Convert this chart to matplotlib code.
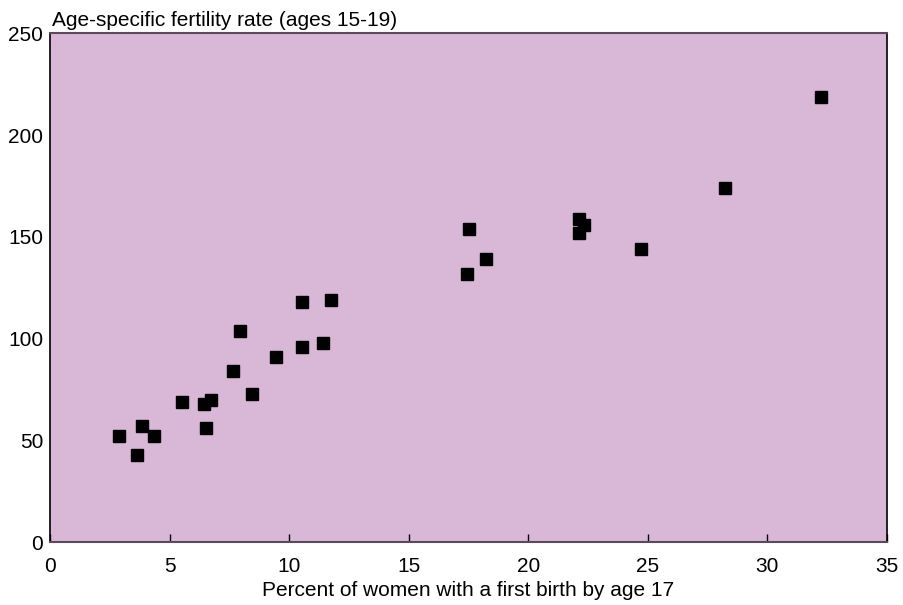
import matplotlib
matplotlib.use("Agg")
import matplotlib.pyplot as plt

plt.rcParams['font.family'] = ['Liberation Sans', 'DejaVu Sans']

# percent of women with a first birth by age 17
first_birth_pct = [2.9, 3.85, 3.64, 4.35, 5.52, 6.44, 6.72, 6.52, 7.65, 7.95,
                   8.45, 9.45, 10.54, 10.54, 11.42, 11.75, 17.44, 17.52, 18.24,
                   22.12, 22.33, 22.12, 24.72, 28.23, 32.25]
# age-specific fertility rate, ages 15-19
asfr = [52, 57, 42.7, 52, 68.8, 67.8, 69.7, 56, 84, 103.6,
        72.7, 90.9, 117.9, 95.8, 97.7, 118.9, 131.6, 153.7, 139,
        158.6, 155.7, 151.8, 143.9, 173.9, 218.6]

fig = plt.figure(figsize=(9.04, 6.05), dpi=100)
ax = fig.add_axes([0.0553, 0.104, 0.9257, 0.841])
ax.set_facecolor('#d9b7d6')

ax.plot(first_birth_pct, asfr, 's', color='black', markersize=8.6, ls='')

ax.set_xlim(0, 35)
ax.set_ylim(0, 250)
ax.set_xticks(range(0, 36, 5))
ax.set_yticks(range(0, 251, 50))
ax.tick_params(axis='x', direction='in', length=6, width=1, pad=11, labelsize=15)
ax.tick_params(axis='y', length=0, pad=5, labelsize=15)

for side in ['top', 'bottom']:
    ax.spines[side].set_color('#5a4a5a')
    ax.spines[side].set_linewidth(1.5)
for side in ['left', 'right']:
    ax.spines[side].set_color('black')
    ax.spines[side].set_linewidth(1.2)

ax.text(0.002, 1.006, 'Age-specific fertility rate (ages 15-19)',
        transform=ax.transAxes, ha='left', va='bottom', fontsize=15)
ax.set_xlabel('Percent of women with a first birth by age 17', fontsize=15, labelpad=3)

fig.savefig('out.png', dpi=100)
